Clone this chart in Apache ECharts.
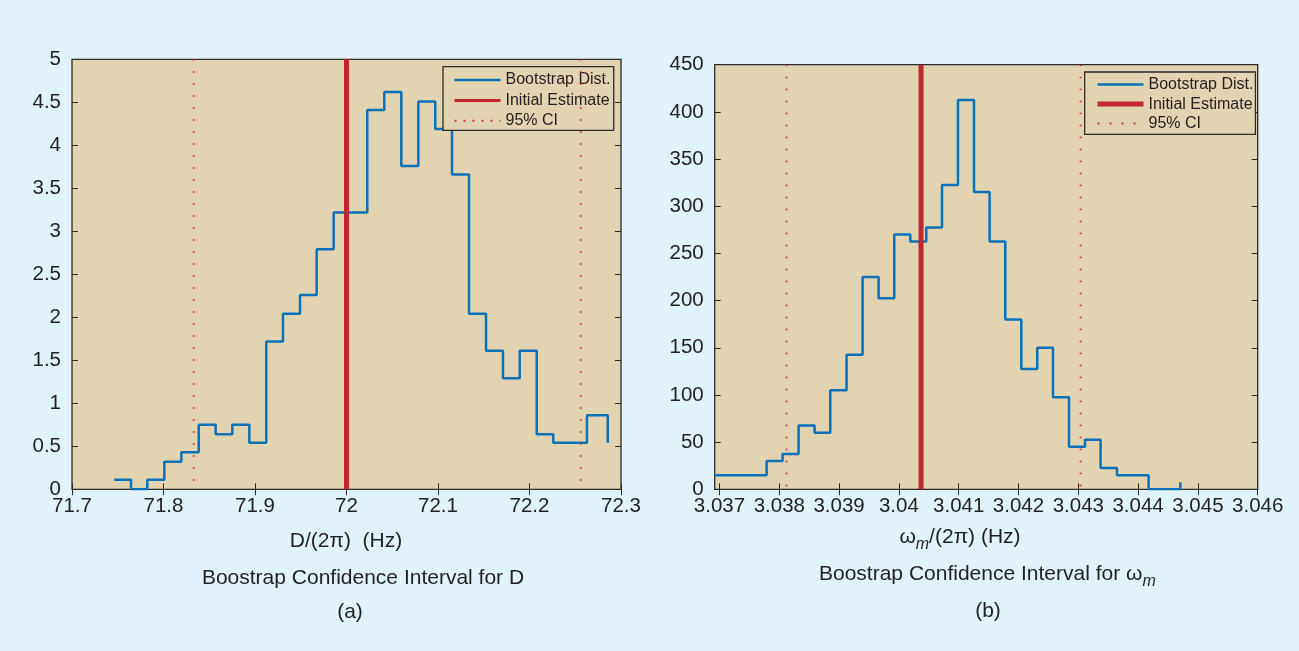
<!DOCTYPE html>
<html>
<head>
<meta charset="utf-8">
<script src="https://cdn.jsdelivr.net/npm/echarts@6/dist/echarts.min.js"></script>
<style>
html,body{margin:0;padding:0;background:#e0f2fa;}
#c{width:1299px;height:651px;}
</style>
</head>
<body>
<div id="c"></div>
<script>
// ---------- Data (a): bootstrap distribution of D/(2pi) ----------
const dEdges = [71.7462, 71.7645, 71.7823, 71.8009, 71.8195, 71.8385, 71.8570, 71.8752, 71.8938, 71.9123,
  71.9306, 71.9492, 71.9674, 71.9860, 72.0038, 72.0227, 72.0413, 72.0599, 72.0785, 72.0970,
  72.1153, 72.1339, 72.1525, 72.1710, 72.1893, 72.2079, 72.2260, 72.2443, 72.2628, 72.2855];
const dValues = [0.11, 0, 0.11, 0.32, 0.43, 0.75, 0.64, 0.75, 0.54, 1.72,
  2.04, 2.26, 2.79, 3.22, 3.22, 4.41, 4.62, 3.76, 4.51, 4.19,
  3.66, 2.04, 1.61, 1.29, 1.61, 0.64, 0.54, 0.54, 0.86, 0.54];
const dEstimate = 72.0;
const dCI = [71.833, 72.256];
const dXTicks = [71.7, 71.8, 71.9, 72.0, 72.1, 72.2, 72.3];

// ---------- Data (b): bootstrap distribution of omega_m/(2pi) ----------
const wEdges = [3.03692, 3.037788, 3.038055, 3.038323, 3.038590, 3.038853, 3.039125, 3.039393, 3.039661, 3.039923,
  3.040191, 3.040458, 3.040721, 3.040988, 3.041256, 3.041517, 3.041779, 3.042047, 3.042314, 3.042577,
  3.042845, 3.043112, 3.043373, 3.043647, 3.044176, 3.044706];
const wValues = [15, 30, 37.5, 67.5, 60, 105, 142.5, 225, 202.5, 270,
  262.5, 277.5, 322.5, 412.5, 315, 262.5, 180, 127.5, 150, 97.5,
  45, 52.5, 22.5, 15, 0, 7.5];
const wEstimate = 3.04037;
const wCI = [3.038122, 3.043038];
const wXTicks = [3.037, 3.038, 3.039, 3.040, 3.041, 3.042, 3.043, 3.044, 3.045, 3.046];

// ---------- Styles ----------
const FONT = 'Liberation Sans, Arial, Helvetica, sans-serif';
const TXT = '#231f20';
const PLOT_BG = '#e2d4b0';
const BLUE = '#0b72b9';
const RED = '#c1272d';
const CIRED = '#d2343a';
const FRAME = '#2a2a2a';
const NOSYM = {color: 'rgba(0,0,0,0)', borderColor: 'rgba(0,0,0,0)', borderWidth: 0, opacity: 0};

const chart = echarts.init(document.getElementById('c'), null, {renderer: 'canvas'});

function pairs(xs, ys) { return xs.map((x, i) => [x, ys[i]]); }

const TICK = {show: true, inside: true, length: 6, lineStyle: {color: FRAME, width: 1}};

function xAxisMain(grid, min, max, extra) {
  return Object.assign({
    gridIndex: grid, type: 'value', min: min, max: max,
    axisLine: {show: false},
    axisTick: TICK,
    axisLabel: {show: true, margin: 7, fontSize: 20.5, fontFamily: FONT, color: TXT},
    splitLine: {show: false}
  }, extra);
}
function xAxisTop(grid, min, max, extra) {
  return Object.assign({
    gridIndex: grid, type: 'value', position: 'top', min: min, max: max,
    axisLine: {show: false},
    axisTick: TICK,
    axisLabel: {show: false}, splitLine: {show: false}
  }, extra);
}
function yAxisMain(grid, min, max, interval) {
  return {
    gridIndex: grid, type: 'value', min: min, max: max, interval: interval,
    axisLine: {show: false},
    axisTick: TICK,
    axisLabel: {show: true, margin: 11, fontSize: 20.5, fontFamily: FONT, color: TXT},
    splitLine: {show: false}
  };
}
function yAxisRight(grid, min, max, interval) {
  return {
    gridIndex: grid, type: 'value', position: 'right', min: min, max: max, interval: interval,
    axisLine: {show: false},
    axisTick: TICK,
    axisLabel: {show: false}, splitLine: {show: false}
  };
}

const wTick = Object.assign({}, TICK, {customValues: wXTicks});

const option = {
  backgroundColor: '#e0f2fa',
  animation: false,
  grid: [
    {left: 72, top: 59.3, width: 549, height: 430, show: true, backgroundColor: PLOT_BG, borderColor: FRAME, borderWidth: 1.3},
    {left: 714.7, top: 64.7, width: 543, height: 424.6, show: true, backgroundColor: PLOT_BG, borderColor: FRAME, borderWidth: 1.3}
  ],
  xAxis: [
    xAxisMain(0, 71.7, 72.3, {interval: 0.1, axisLabel: {show: true, margin: 7, fontSize: 20.5, fontFamily: FONT, color: TXT,
      formatter: v => String(+v.toFixed(1))}}),
    xAxisTop(0, 71.7, 72.3, {interval: 0.1}),
    xAxisMain(1, wEdges[0], 3.046, {
      axisTick: wTick,
      axisLabel: {show: true, margin: 7, fontSize: 20.5, fontFamily: FONT, color: TXT, customValues: wXTicks,
        formatter: v => String(+(+v).toFixed(3))}
    }),
    xAxisTop(1, wEdges[0], 3.046, {axisTick: wTick})
  ],
  yAxis: [
    yAxisMain(0, 0, 5, 0.5),
    yAxisRight(0, 0, 5, 0.5),
    yAxisMain(1, 0, 450, 50),
    yAxisRight(1, 0, 450, 50)
  ],
  legend: [
    {
      left: 443, top: 66.7, orient: 'vertical',
      itemWidth: 46, itemHeight: 14, itemGap: 4.4,
      padding: [5.3, 3.3, 1.5, 10],
      backgroundColor: PLOT_BG, borderColor: FRAME, borderWidth: 1.3, borderRadius: 0,
      textStyle: {fontSize: 16, fontFamily: FONT, color: TXT},
      itemStyle: NOSYM,
      selectedMode: false,
      data: [
        {name: 'Bootstrap Dist.', itemStyle: NOSYM, lineStyle: {color: BLUE, width: 2.5}},
        {name: 'Initial Estimate', itemStyle: NOSYM, lineStyle: {color: RED, width: 3}},
        {name: '95% CI', itemStyle: NOSYM, lineStyle: {color: CIRED, width: 2, type: [2, 7]}}
      ]
    },
    {
      left: 1084.7, top: 72, orient: 'vertical',
      itemWidth: 46, itemHeight: 14, itemGap: 3.5,
      padding: [4.6, 2, 2.7, 10.3],
      backgroundColor: PLOT_BG, borderColor: FRAME, borderWidth: 1.3, borderRadius: 0,
      textStyle: {fontSize: 16, fontFamily: FONT, color: TXT},
      itemStyle: NOSYM,
      selectedMode: false,
      data: [
        {name: 'Bootstrap Dist.', itemStyle: NOSYM, lineStyle: {color: BLUE, width: 2.5}},
        {name: 'Initial Estimate', itemStyle: NOSYM, lineStyle: {color: RED, width: 5}},
        {name: '95% CI', itemStyle: NOSYM, lineStyle: {color: CIRED, width: 2, type: [2, 10]}}
      ]
    }
  ],
  series: [
    {name: 'Bootstrap Dist.', type: 'line', xAxisIndex: 0, yAxisIndex: 0, step: 'end', symbol: 'none',
      lineStyle: {color: BLUE, width: 2.5}, itemStyle: {color: BLUE}, data: pairs(dEdges, dValues), z: 2},
    {name: 'Initial Estimate', type: 'line', xAxisIndex: 0, yAxisIndex: 0, symbol: 'none',
      lineStyle: {color: RED, width: 5}, itemStyle: {color: RED}, data: [[dEstimate, 0], [dEstimate, 5]], z: 3},
    {name: '95% CI', type: 'line', xAxisIndex: 0, yAxisIndex: 0, symbol: 'none',
      lineStyle: {color: CIRED, width: 2, type: [1.5, 10.5]}, itemStyle: {color: CIRED}, data: [[dCI[0], 5], [dCI[0], 0]], z: 4},
    {name: '95% CI', type: 'line', xAxisIndex: 0, yAxisIndex: 0, symbol: 'none',
      lineStyle: {color: CIRED, width: 2, type: [1.5, 10.5]}, itemStyle: {color: CIRED}, data: [[dCI[1], 5], [dCI[1], 0]], z: 4},

    {name: 'Bootstrap Dist.', type: 'line', xAxisIndex: 2, yAxisIndex: 2, step: 'end', symbol: 'none',
      lineStyle: {color: BLUE, width: 2.5}, itemStyle: {color: BLUE}, data: pairs(wEdges, wValues), z: 2},
    {name: 'Initial Estimate', type: 'line', xAxisIndex: 2, yAxisIndex: 2, symbol: 'none',
      lineStyle: {color: RED, width: 5}, itemStyle: {color: RED}, data: [[wEstimate, 0], [wEstimate, 450]], z: 3},
    {name: '95% CI', type: 'line', xAxisIndex: 2, yAxisIndex: 2, symbol: 'none',
      lineStyle: {color: CIRED, width: 2, type: [1.5, 10.5]}, itemStyle: {color: CIRED}, data: [[wCI[0], 450], [wCI[0], 0]], z: 4},
    {name: '95% CI', type: 'line', xAxisIndex: 2, yAxisIndex: 2, symbol: 'none',
      lineStyle: {color: CIRED, width: 2, type: [1.5, 10.5]}, itemStyle: {color: CIRED}, data: [[wCI[1], 450], [wCI[1], 0]], z: 4}
  ],
  graphic: [
    {type: 'text', x: 346, y: 541.5, style: {text: 'D/(2π)  (Hz)', align: 'center', verticalAlign: 'middle',
      fontSize: 21, fontFamily: FONT, fill: TXT}},
    {type: 'text', x: 363, y: 578, style: {text: 'Boostrap Confidence Interval for D', align: 'center', verticalAlign: 'middle',
      fontSize: 21, fontFamily: FONT, fill: TXT}},
    {type: 'text', x: 350, y: 612, style: {text: '(a)', align: 'center', verticalAlign: 'middle',
      fontSize: 21, fontFamily: FONT, fill: TXT}},
    {type: 'text', x: 960, y: 540, style: {
      text: '{g|ω}{s|m}{g|/(2π) (Hz)}', align: 'center', verticalAlign: 'middle',
      fontSize: 21, fontFamily: FONT, fill: TXT,
      rich: {
        g: {fontSize: 21, fontFamily: FONT, fill: TXT, verticalAlign: 'bottom', padding: [0, 0, 5, 0]},
        s: {fontSize: 16, fontFamily: FONT, fontStyle: 'italic', fill: TXT, verticalAlign: 'bottom'}
      }}},
    {type: 'text', x: 819, y: 577, style: {
      text: '{g|Boostrap Confidence Interval for ω}{s|m}', align: 'left', verticalAlign: 'middle',
      fontSize: 21, fontFamily: FONT, fill: TXT,
      rich: {
        g: {fontSize: 21, fontFamily: FONT, fill: TXT, verticalAlign: 'bottom', padding: [0, 0, 5, 0]},
        s: {fontSize: 16, fontFamily: FONT, fontStyle: 'italic', fill: TXT, verticalAlign: 'bottom'}
      }}},
    {type: 'text', x: 988, y: 611, style: {text: '(b)', align: 'center', verticalAlign: 'middle',
      fontSize: 21, fontFamily: FONT, fill: TXT}}
  ]
};
chart.setOption(option);
</script>
</body>
</html>
